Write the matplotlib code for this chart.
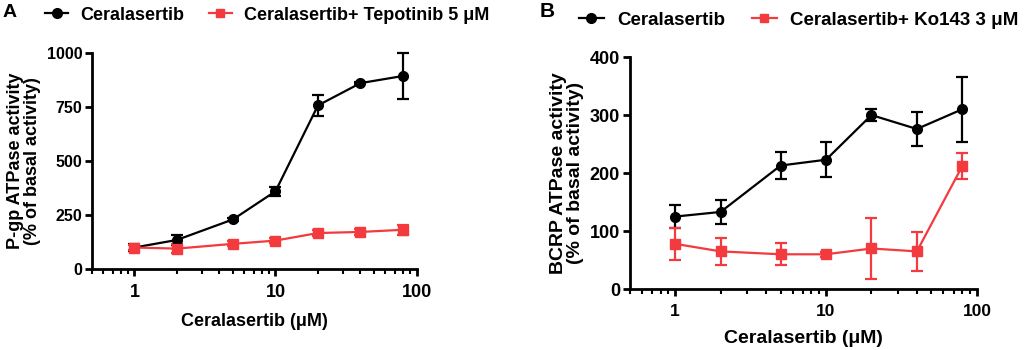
import matplotlib
matplotlib.use("Agg")
import matplotlib.pyplot as plt
from matplotlib.lines import Line2D
from matplotlib.ticker import LogLocator, FixedLocator, NullFormatter

plt.rcParams['font.family'] = ['Liberation Sans', 'DejaVu Sans']
plt.rcParams['font.weight'] = 'bold'

conc = [1, 2, 5, 10, 20, 40, 80]

# Panel A: P-gp
a_cer = [100, 135, 230, 360, 757, 860, 893]
a_cer_err = [15, 22, 8, 20, 50, 6, 105]
a_tep = [100, 95, 117, 132, 167, 172, 182]
a_tep_err = [10, 20, 12, 12, 15, 12, 22]

# Panel B: BCRP
b_cer = [125, 133, 213, 223, 300, 276, 310]
b_cer_err = [20, 21, 23, 30, 10, 29, 56]
b_ko = [78, 65, 60, 60, 70, 65, 212]
b_ko_err = [27, 23, 19, 4, 52, 34, 22]

RED = '#f23a3f'
BLACK = '#000000'

fig = plt.figure(figsize=(10.24, 3.5), dpi=100)
axA = fig.add_axes([0.0898, 0.231, 0.317, 0.618])
axB = fig.add_axes([0.615, 0.174, 0.339, 0.663])


def style(ax, yticks, ylim, xsize, ysize):
    ax.set_xscale('log')
    ax.set_xlim(0.5, 100)
    ax.set_ylim(*ylim)
    ax.set_yticks(yticks)
    ax.spines['top'].set_visible(False)
    ax.spines['right'].set_visible(False)
    ax.spines['left'].set_linewidth(2)
    ax.spines['bottom'].set_linewidth(2)
    ax.xaxis.set_major_locator(FixedLocator([1, 10, 100]))
    ax.xaxis.set_minor_locator(LogLocator(base=10, subs=range(2, 10)))
    ax.xaxis.set_minor_formatter(NullFormatter())
    ax.set_xticklabels(['1', '10', '100'])
    ax.tick_params(axis='both', which='major', width=2, length=5)
    ax.tick_params(axis='x', which='major', labelsize=xsize, pad=6)
    ax.tick_params(axis='y', which='major', labelsize=ysize, pad=2)
    ax.tick_params(axis='x', which='minor', width=1.5, length=3.5)
    for lbl in ax.get_xticklabels() + ax.get_yticklabels():
        lbl.set_fontweight('bold')


def plot_series(ax, x, y, e, color, marker):
    ax.errorbar(x, y, yerr=e, color=color, marker=marker, markersize=7,
                linewidth=1.6, elinewidth=1.6, capsize=4.5, capthick=1.6,
                clip_on=False, zorder=3)


def handles(labels):
    return [Line2D([], [], color=BLACK, marker='o', markersize=7, lw=1.6, label=labels[0]),
            Line2D([], [], color=RED, marker='s', markersize=6, lw=1.6, label=labels[1])]


plot_series(axA, conc, a_cer, a_cer_err, BLACK, 'o')
plot_series(axA, conc, a_tep, a_tep_err, RED, 's')
style(axA, [0, 250, 500, 750, 1000], (0, 1000), 13, 11.5)
axA.set_xlabel('Ceralasertib (μM)', fontsize=13, fontweight='bold', labelpad=8)
axA.set_ylabel('P-gp ATPase activity\n(% of basal activity)', fontsize=13,
               fontweight='bold', linespacing=1.0, labelpad=4)

plot_series(axB, conc, b_cer, b_cer_err, BLACK, 'o')
plot_series(axB, conc, b_ko, b_ko_err, RED, 's')
style(axB, [0, 100, 200, 300, 400], (0, 400), 12.5, 13)
axB.set_xlabel('Ceralasertib (μM)', fontsize=14, fontweight='bold', labelpad=8)
axB.set_ylabel('BCRP ATPase activity\n(% of basal activity)', fontsize=14,
               fontweight='bold', linespacing=1.0, labelpad=4)

fig.legend(handles=handles(['Ceralasertib', 'Ceralasertib+ Tepotinib 5 μM']),
           loc='center left', bbox_to_anchor=(0.044, 0.957),
           bbox_transform=fig.transFigure, ncol=2, frameon=False,
           handlelength=1.27, handletextpad=0.66, columnspacing=1.38,
           borderpad=0, borderaxespad=0, prop={'weight': 'bold', 'size': 13})
fig.legend(handles=handles(['Ceralasertib', 'Ceralasertib+ Ko143 3 μM']),
           loc='center left', bbox_to_anchor=(0.5654, 0.943),
           bbox_transform=fig.transFigure, ncol=2, frameon=False,
           handlelength=1.33, handletextpad=0.72, columnspacing=1.4,
           borderpad=0, borderaxespad=0, prop={'weight': 'bold', 'size': 13.5})

fig.text(0.002, 0.963, 'A', fontsize=14, fontweight='bold', va='center')
fig.text(0.527, 0.966, 'B', fontsize=15, fontweight='bold', va='center')

fig.savefig('out.png', dpi=100)
